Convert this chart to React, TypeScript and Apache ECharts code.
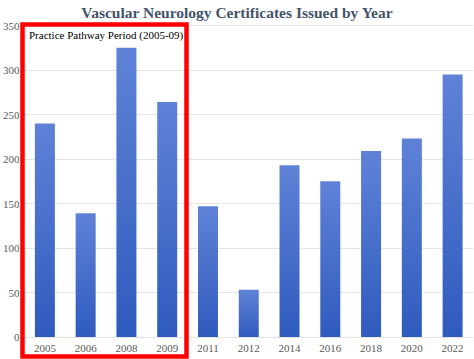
import React, { useEffect, useRef } from "react";
import * as echarts from "echarts";

const years = ["2005", "2006", "2008", "2009", "2011", "2012", "2014", "2016", "2018", "2020", "2022"];
const certificates = [240, 139, 325, 264, 147, 53, 193, 175, 209, 223, 295];
const titleText = "Vascular Neurology Certificates Issued by Year";
const boxLabel = "Practice Pathway Period (2005-09)";

export default function App() {
  const ref = useRef<HTMLDivElement>(null);
  useEffect(() => {
    document.body.style.margin = "0";
    const chart = echarts.init(ref.current!, null, { renderer: "svg" });
    const font = "'Liberation Serif', serif";
    chart.setOption({
      animation: false,
      backgroundColor: "#ffffff",
      textStyle: { fontFamily: font },
      title: {
        text: titleText,
        left: "center",
        top: -1,
        textStyle: { fontFamily: font, fontSize: 15.5, fontWeight: "bold", color: "#44546A" },
      },
      grid: { left: 22, right: 1, top: 25.5, bottom: 22, containLabel: false },
      xAxis: {
        type: "category",
        data: years,
        axisLine: { show: false },
        axisTick: { show: false },
        axisLabel: { fontFamily: font, fontSize: 11, color: "#595959", margin: 5 },
      },
      yAxis: {
        type: "value",
        min: 0,
        max: 350,
        interval: 50,
        axisLine: { show: false },
        axisTick: { show: false },
        splitLine: { lineStyle: { color: "#E4E4E4", width: 1 } },
        axisLabel: { fontFamily: font, fontSize: 11, color: "#595959", margin: 5 },
      },
      series: [
        {
          type: "bar",
          data: certificates,
          barWidth: 20,
          itemStyle: {
            color: new echarts.graphic.LinearGradient(0, 0, 0, 1, [
              { offset: 0, color: "#5F82D7" },
              { offset: 1, color: "#2F5BBE" },
            ]),
          },
        },
      ],
      graphic: [
        {
          type: "rect",
          shape: { x: 22.5, y: 24.5, width: 164, height: 332 },
          style: { fill: "none", stroke: "#FF0000", lineWidth: 4.5 },
          z: 100,
        },
        {
          type: "text",
          x: 29,
          y: 35,
          style: {
            text: boxLabel,
            fontFamily: font,
            fontSize: 11,
            fill: "#000000",
            verticalAlign: "middle",
          },
          z: 100,
        },
      ],
    });
    return () => chart.dispose();
  }, []);
  return <div ref={ref} style={{ width: 474, height: 359 }} />;
}
